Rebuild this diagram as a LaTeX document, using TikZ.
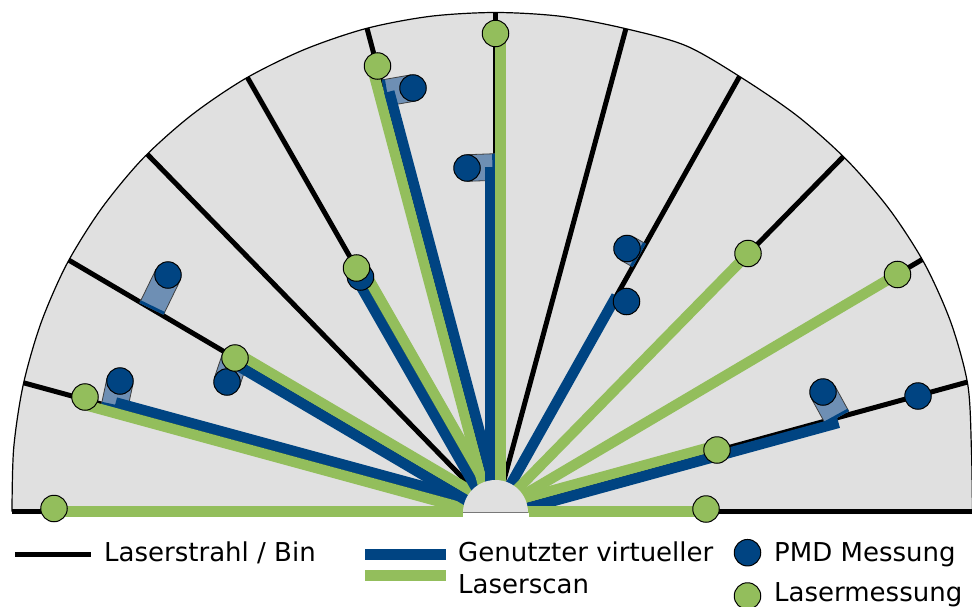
\documentclass[tikz,border=0pt]{standalone}
\usepackage{fontspec}
\setmainfont{DejaVu Sans}
\usetikzlibrary{calc}
\definecolor{bggray}{RGB}{224,224,224}
\definecolor{pblue}{RGB}{0,68,130}
\definecolor{lgreen}{RGB}{147,190,92}
\definecolor{cylblue}{RGB}{110,143,180}
\definecolor{basegray}{RGB}{120,120,120}
\tikzset{
  beam/.style={line width=5pt, black},
  gline/.style={line width=10.5pt, lgreen},
  bline/.style={line width=10.5pt, pblue},
  gdot/.style={circle, draw=black, line width=1pt, fill=lgreen, minimum size=26.5pt, inner sep=0pt},
  bdot/.style={circle, draw=black, line width=1pt, fill=pblue, minimum size=26.5pt, inner sep=0pt},
  cyledge/.style={line width=0.8pt, black!75},
  arcline/.style={line width=1.2pt, black},
  legtext/.style={anchor=base west, inner sep=0pt, font=\fontsize{26}{30}\selectfont}
}
\newcommand{\pmdcyl}[2]{%
  \fill[cylblue] ($(#1)!13.3pt!90:(#2)$) -- ($(#2)!13.3pt!-90:(#1)$) -- ($(#2)!13.3pt!90:(#1)$) -- ($(#1)!13.3pt!-90:(#2)$) -- cycle;
  \draw[cyledge] ($(#1)!13.3pt!90:(#2)$) -- ($(#2)!13.3pt!-90:(#1)$);
  \draw[cyledge] ($(#1)!13.3pt!-90:(#2)$) -- ($(#2)!13.3pt!90:(#1)$);
  \draw[pblue, line width=3pt] ($(#1)!1.5pt!(#2)!13.3pt!90:(#2)$) -- ($(#1)!1.5pt!(#2)!13.3pt!-90:(#2)$);
}
\newcommand{\offline}[5]{\draw[#1] ($(#2)!5.2pt!#5:(#4)$) -- ($(#3)!5.2pt!#5:(#4)$);}
\begin{document}
\begin{tikzpicture}[x=1pt,y=-1pt]
\useasboundingbox (0,0) rectangle (972,607);
\clip (0,0) rectangle (972,607);

% big half disc
\fill[bggray] plot[smooth] coordinates {(12,511.5) (13.7,448.1) (23.2,384.9) (40.9,323.2) (66.8,264.0) (101.2,208.9) (142.7,158.7) (191.4,115.2) (245.5,78.5) (304.2,49.6) (366.1,28.5) (430.3,16.3) (495.5,12.5) (560.7,16.3) (624.9,28.5) (686.6,46.0) (744.8,79.8) (798.4,116.8) (846.9,160.1) (889.4,209.3) (924.6,263.8) (951,322.8) (967.8,384.9) (971.4,448.8) (972.5,511.5)} -- (972.5,514) -- (12,514) -- cycle;
\draw[arcline] plot[smooth] coordinates {(12,511.5) (13.7,448.1) (23.2,384.9) (40.9,323.2) (66.8,264.0) (101.2,208.9) (142.7,158.7) (191.4,115.2) (245.5,78.5) (304.2,49.6) (366.1,28.5) (430.3,16.3) (495.5,12.5) (560.7,16.3) (624.9,28.5) (686.6,46.0) (744.8,79.8) (798.4,116.8) (846.9,160.1) (889.4,209.3) (924.6,263.8) (951,322.8) (967.8,384.9) (971.4,448.8) (972.5,511.5)};

% geometry
\coordinate (C) at (495.5,511.5);
\coordinate (E180) at (12,511.5);
\coordinate (E165) at (28,384);
\coordinate (E150) at (72,262);
\coordinate (E135) at (150,157);
\coordinate (E120) at (250,82);
\coordinate (E105) at (368,32);
\coordinate (E90) at (495.5,22);
\coordinate (E75) at (625,32);
\coordinate (E60) at (737,81);
\coordinate (E45) at (840,160);
\coordinate (E30) at (918,262);
\coordinate (E15) at (964,383);
\coordinate (E0) at (972,511.5);

% measurement positions
\coordinate (g180) at (54,508.5);
\coordinate (g165) at (85,397);
\coordinate (g150) at (235,358);
\coordinate (g120) at (356.5,268);
\coordinate (g105) at (377.5,66);
\coordinate (g90) at (495.5,33.5);
\coordinate (g45) at (748,253.5);
\coordinate (g30) at (897.5,274.5);
\coordinate (g15) at (717,450);
\coordinate (g0) at (706,509);
\coordinate (b165) at (120,381);
\coordinate (b150a) at (168,275);
\coordinate (b150b) at (227,382);
\coordinate (b120) at (360.5,277);
\coordinate (b105) at (413,88);
\coordinate (b90) at (467,168);
\coordinate (b60a) at (627,248.5);
\coordinate (b60b) at (626.5,301.5);
\coordinate (b15a) at (823,392);
\coordinate (b15b) at (918,396);

% projections on the beams
\coordinate (pg180) at ($(C)!(g180)!(E180)$);
\coordinate (pg165) at ($(C)!(g165)!(E165)$);
\coordinate (pg150) at ($(C)!(g150)!(E150)$);
\coordinate (pg120) at ($(C)!(g120)!(E120)$);
\coordinate (pg105) at ($(C)!(g105)!(E105)$);
\coordinate (pg90) at ($(C)!(g90)!(E90)$);
\coordinate (pg45) at ($(C)!(g45)!(E45)$);
\coordinate (pg30) at ($(C)!(g30)!(E30)$);
\coordinate (pg15) at ($(C)!(g15)!(E15)$);
\coordinate (pg0) at ($(C)!(g0)!(E0)$);
\coordinate (pb165) at ($(C)!(115,405)!(E165)$);
\coordinate (pb150) at ($(C)!(g150)!(E150)$);
\coordinate (pb120) at ($(C)!(b120)!(E120)$);
\coordinate (pb105) at ($(C)!(384,93)!(E105)$);
\coordinate (pb90) at ($(C)!(495.5,167)!(E90)$);
\coordinate (pb60) at ($(C)!(b60b)!(E60)$);
\coordinate (pb15) at ($(C)!(837,417)!(E15)$);
\coordinate (pc150) at ($(C)!(152,308)!(E150)$);
\coordinate (pc60) at ($(C)!(b60a)!(E60)$);
\foreach \e in {180,165,150,120,105,90,60,45,30,15,0}
  \coordinate (s\e) at ($(C)!24pt!(E\e)$);

% laser beams / bins
\begin{scope}
\clip plot[smooth] coordinates {(12,511.5) (13.7,448.1) (23.2,384.9) (40.9,323.2) (66.8,264.0) (101.2,208.9) (142.7,158.7) (191.4,115.2) (245.5,78.5) (304.2,49.6) (366.1,28.5) (430.3,16.3) (495.5,12.5) (560.7,16.3) (624.9,28.5) (686.6,46.0) (744.8,79.8) (798.4,116.8) (846.9,160.1) (889.4,209.3) (924.6,263.8) (951,322.8) (967.8,384.9) (971.4,448.8) (972.5,511.5)} -- (972.5,514) -- (12,514) -- cycle;
\foreach \e in {E180,E165,E150,E135,E120,E105,E90,E75,E60,E45,E30,E15,E0}
  \draw[beam] (C) -- ($(C)!1.1!(\e)$);
\end{scope}

% PMD cylinders
\pmdcyl{pb165}{b165}
\pmdcyl{pc150}{b150a}
\pmdcyl{pb150}{b150b}
\pmdcyl{pb105}{b105}
\pmdcyl{pb90}{b90}
\pmdcyl{pc60}{b60a}
\pmdcyl{pb15}{b15a}

% virtual laser scan and laser scan
\draw[gline] (s180) -- (pg180);
\offline{bline}{s165}{pb165}{E165}{-90}
\offline{gline}{s165}{pg165}{E165}{90}
\offline{gline}{s150}{pg150}{E150}{-90}
\offline{bline}{s150}{pb150}{E150}{90}
\offline{bline}{s120}{pb120}{E120}{90}
\offline{gline}{s120}{pg120}{E120}{-90}
\offline{gline}{s105}{pg105}{E105}{90}
\offline{bline}{s105}{pb105}{E105}{-90}
\offline{bline}{s90}{pb90}{E90}{90}
\offline{gline}{s90}{pg90}{E90}{-90}
\draw[bline] (s60) -- (pb60);
\draw[gline] (s45) -- (pg45);
\draw[gline] (s30) -- (pg30);
\offline{gline}{s15}{pg15}{E15}{90}
\offline{bline}{s15}{pb15}{E15}{-90}
\draw[gline] (s0) -- (pg0);

% sensor half disc
\fill[bggray] (463,512.5) arc[start angle=180, end angle=360, radius=32.5] -- cycle;
\fill[white] (462.5,512.5) rectangle (528.5,520);
\draw[basegray, line width=1.3pt] (463,512.5) -- (528,512.5);

% measurements
\foreach \b in {b165,b150a,b150b,b120,b105,b90,b60a,b60b,b15a,b15b}
  \node[bdot] (n\b) at (\b) {};
\foreach \g in {g180,g165,g150,g120,g105,g90,g45,g30,g15,g0}
  \node[gdot] (n\g) at (\g) {};

% legend
\coordinate (l1a) at (15,554);
\coordinate (l1b) at (91,554);
\draw[beam] (l1a) -- (l1b);
\node[legtext] (t1) at (104,561.5) {Laserstrahl / Bin};
\coordinate (l2a) at (365,554.3);
\coordinate (l2b) at (446,554.3);
\draw[bline] (l2a) -- (l2b);
\coordinate (l3a) at (365,575.3);
\coordinate (l3b) at (446,575.3);
\draw[gline] (l3a) -- (l3b);
\node[legtext] (t2) at (458,561.5) {Genutzter virtueller};
\node[legtext] (t3) at (458,593.3) {Laserscan};
\node[bdot] (lb) at (747.5,552.7) {};
\node[legtext] (t4) at (774,561.5) {PMD Messung};
\node[gdot] (lg) at (747.5,596) {};
\node[legtext] (t5) at (774,601.7) {Lasermessung};
\end{tikzpicture}
\end{document}
